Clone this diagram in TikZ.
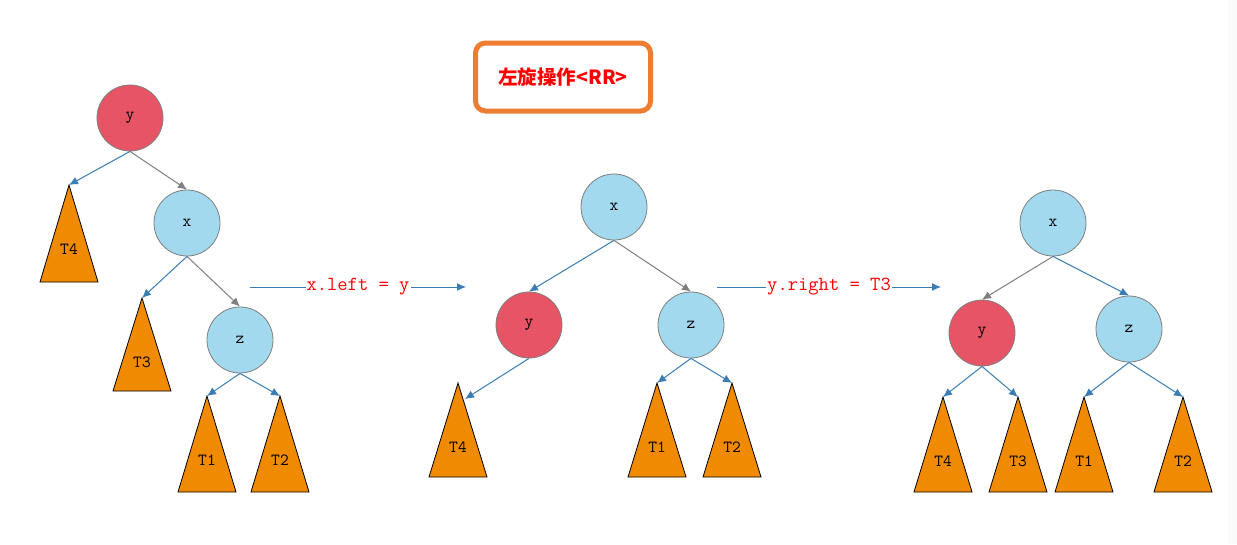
\documentclass[tikz,border=0pt]{standalone}
\usepackage{fontspec}
\newfontfamily\cjk{Noto Sans CJK SC}
\usetikzlibrary{arrows.meta}
\definecolor{nred}{HTML}{E65466}
\definecolor{nblue}{HTML}{A3D9EE}
\definecolor{torange}{HTML}{F08A00}
\definecolor{eblue}{HTML}{3A7DB5}
\definecolor{egray}{HTML}{7F7F7F}
\definecolor{boxorange}{HTML}{ED7D31}
\newcommand\stree[5]{%
  \coordinate (#1) at (#2,#3);
  \draw[tri] (#2,#3) -- ({#2-29},#4) -- ({#2+29},#4) -- cycle;
  \node[lbl] (#1l) at (#2,{#3+64}) {#5};}
\begin{document}
\begin{tikzpicture}[x=1pt,y=-1pt,
  circ/.style={circle, draw=egray, line width=0.8pt, minimum size=66pt, inner sep=0pt, font=\ttfamily\fontsize{17}{17}\selectfont},
  rnode/.style={circ, fill=nred},
  bnode/.style={circ, fill=nblue},
  tri/.style={fill=torange, draw=black, line width=0.8pt, line join=miter},
  lbl/.style={font=\ttfamily\fontsize{17}{17}\selectfont, inner sep=0pt},
  bedge/.style={draw=eblue, line width=1pt, -{Latex[length=9pt,width=8pt]}},
  gedge/.style={draw=egray, line width=1pt, -{Latex[length=9pt,width=8pt]}},
  oplabel/.style={fill=white, inner sep=1pt, text=red, font=\ttfamily\fontsize{20}{20}\selectfont}
]
\useasboundingbox (0,0) rectangle (1237,544);
\fill[white] (0,0) rectangle (1237,544);
\fill[black!2] (1228,0) rectangle (1237,544);

% title
\node[draw=boxorange, line width=5pt, rounded corners=10pt, minimum width=175pt, minimum height=68pt, text=red, font=\cjk\bfseries\fontsize{19.5}{19.5}\selectfont] (title) at (563,77) {左旋操作<RR>};

% tree 1
\node[rnode] (ay) at (130,118) {y};
\node[bnode] (ax) at (187,223) {x};
\node[bnode] (az) at (240,340) {z};
\stree{aT4}{69}{185}{282}{T4}
\stree{aT3}{142}{298}{391}{T3}
\stree{aT1}{207}{396}{492}{T1}
\stree{aT2}{280}{396}{492}{T2}
\draw[bedge] (ay.south) -- (aT4);
\draw[gedge] (ay.south) -- (ax.north);
\draw[bedge] (ax.south) -- (aT3);
\draw[gedge] (ax.south) -- (az.north);
\draw[bedge] (az.south) -- (aT1);
\draw[bedge] (az.south) -- (aT2);

% operation 1
\coordinate (o1s) at (250,287);
\coordinate (o1e) at (466,287);
\draw[bedge] (o1s) -- (o1e) node[midway, oplabel] (o1l) {x.left = y};

% tree 2
\node[bnode] (bx) at (614,207) {x};
\node[rnode] (by) at (529,325) {y};
\node[bnode] (bz) at (691,325) {z};
\stree{bT4}{458}{383}{477}{T4}
\stree{bT1}{657}{383}{477}{T1}
\stree{bT2}{732}{383}{477}{T2}
\coordinate (bT4e) at (465,399);
\draw[bedge] (bx.south) -- (by.north);
\draw[gedge] (bx.south) -- (bz.north);
\draw[bedge] (by.south) -- (bT4e);
\draw[bedge] (bz.south) -- (bT1);
\draw[bedge] (bz.south) -- (bT2);

% operation 2
\coordinate (o2s) at (717,287);
\coordinate (o2e) at (941,287);
\draw[bedge] (o2s) -- (o2e) node[midway, oplabel] (o2l) {y.right = T3};

% tree 3
\node[bnode] (cx) at (1053,223) {x};
\node[rnode] (cy) at (982,333) {y};
\node[bnode] (cz) at (1129,329) {z};
\stree{cT4}{943}{397}{492}{T4}
\stree{cT3}{1018}{397}{492}{T3}
\stree{cT1}{1084}{397}{492}{T1}
\stree{cT2}{1183}{397}{492}{T2}
\draw[gedge] (cx.south) -- (cy.north);
\draw[bedge] (cx.south) -- (cz.north);
\draw[bedge] (cy.south) -- (cT4);
\draw[bedge] (cy.south) -- (cT3);
\draw[bedge] (cz.south) -- (cT1);
\draw[bedge] (cz.south) -- (cT2);
\end{tikzpicture}
\end{document}
